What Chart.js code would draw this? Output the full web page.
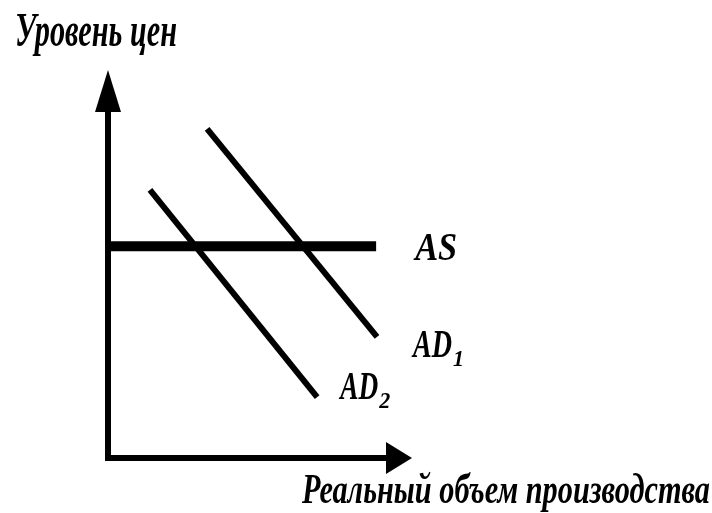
<!DOCTYPE html>
<html lang="ru">
<head>
<meta charset="utf-8">
<title>AS / AD</title>
<script src="https://cdn.jsdelivr.net/npm/chart.js@4/dist/chart.umd.min.js"></script>
<style>
  html, body { margin: 0; padding: 0; background: #fff; }
  #wrap { width: 712px; height: 513px; position: relative; }
</style>
</head>
<body>
<div id="wrap"><canvas id="adChart"></canvas></div>
<script>
// === Данные ===
const yTitle = "Уровень цен";
const xTitle = "Реальный объем производства";

const asX = [0, 88.2];
const asY = [54.6, 54.6];

const ad1X = [32.6, 88.5];
const ad1Y = [84.8, 31.2];

const ad2X = [13.8, 68.8];
const ad2Y = [69.1, 15.7];

const lineLabels = ["AS", "AD", "AD"];
const lineSubs = ["", "1", "2"];

function toPoints(xs, ys) {
  return xs.map((x, i) => ({ x: x, y: ys[i] }));
}

// === Текст, сжатый по ширине ===
function fitText(ctx, text, x, y, size, width) {
  ctx.font = `italic bold ${size}px "Liberation Serif"`;
  const w = ctx.measureText(text).width;
  ctx.save();
  ctx.translate(x, y);
  ctx.scale(width / w, 1);
  ctx.fillText(text, 0, 0);
  ctx.restore();
}

// === Оси со стрелками и подписи ===
const axesPlugin = {
  id: "axesPlugin",
  beforeDatasetsDraw(chart) {
    const ctx = chart.ctx;
    const xs = chart.scales.x, ys = chart.scales.y;
    const x0 = xs.getPixelForValue(0), y0 = ys.getPixelForValue(0);
    const xEnd = xs.getPixelForValue(100), yEnd = ys.getPixelForValue(100);
    ctx.save();
    ctx.strokeStyle = "#000";
    ctx.fillStyle = "#000";
    ctx.lineWidth = 6;
    ctx.lineJoin = "miter";
    ctx.beginPath();
    ctx.moveTo(x0, yEnd + 30);
    ctx.lineTo(x0, y0);
    ctx.lineTo(xEnd - 20, y0);
    ctx.stroke();
    // стрелка вверх
    ctx.beginPath();
    ctx.moveTo(x0, yEnd);
    ctx.lineTo(x0 - 13, yEnd + 42);
    ctx.lineTo(x0 + 13, yEnd + 42);
    ctx.closePath();
    ctx.fill();
    // стрелка вправо
    ctx.beginPath();
    ctx.moveTo(xEnd, y0);
    ctx.lineTo(xEnd - 26, y0 - 16);
    ctx.lineTo(xEnd - 26, y0 + 16);
    ctx.closePath();
    ctx.fill();
    ctx.restore();
  },
  afterDraw(chart) {
    const ctx = chart.ctx;
    const xs = chart.scales.x, ys = chart.scales.y;
    ctx.save();
    ctx.fillStyle = "#000";
    ctx.textBaseline = "alphabetic";
    fitText(ctx, yTitle, 15, 46, 48, 162);
    fitText(ctx, xTitle, 302, 503, 42, 408);

    const ends = [
      { x: asX[1], y: asY[1], dx: 39, dy: 14, w: 42 },
      { x: ad1X[1], y: ad1Y[1], dx: 36, dy: 20, w: 39 },
      { x: ad2X[1], y: ad2Y[1], dx: 23, dy: 2, w: 38 }
    ];
    ends.forEach((e, i) => {
      const px = xs.getPixelForValue(e.x) + e.dx;
      const py = ys.getPixelForValue(e.y) + e.dy;
      fitText(ctx, lineLabels[i], px, py, 40, e.w);
      if (lineSubs[i]) {
        fitText(ctx, lineSubs[i], px + e.w + 1, py + 9, 24, 11);
      }
    });
    ctx.restore();
  }
};

// === График ===
const ctx = document.getElementById("adChart").getContext("2d");
const adChart = new Chart(ctx, {
  type: "scatter",
  data: {
    datasets: [
      { label: "AS", data: toPoints(asX, asY), borderWidth: 10 },
      { label: "AD1", data: toPoints(ad1X, ad1Y), borderWidth: 6 },
      { label: "AD2", data: toPoints(ad2X, ad2Y), borderWidth: 6 }
    ].map(ds => Object.assign(ds, {
      showLine: true,
      borderColor: "#000",
      backgroundColor: "#000",
      pointRadius: 0,
      pointHoverRadius: 0,
      borderCapStyle: "butt",
      clip: false
    }))
  },
  options: {
    responsive: true,
    maintainAspectRatio: false,
    animation: false,
    events: [],
    layout: { padding: { left: 108, right: 300, top: 70, bottom: 55 } },
    plugins: {
      legend: { display: false },
      tooltip: { enabled: false },
      title: { display: false }
    },
    scales: {
      x: { type: "linear", min: 0, max: 100, display: false },
      y: { type: "linear", min: 0, max: 100, display: false }
    }
  },
  plugins: [axesPlugin]
});
</script>
</body>
</html>
